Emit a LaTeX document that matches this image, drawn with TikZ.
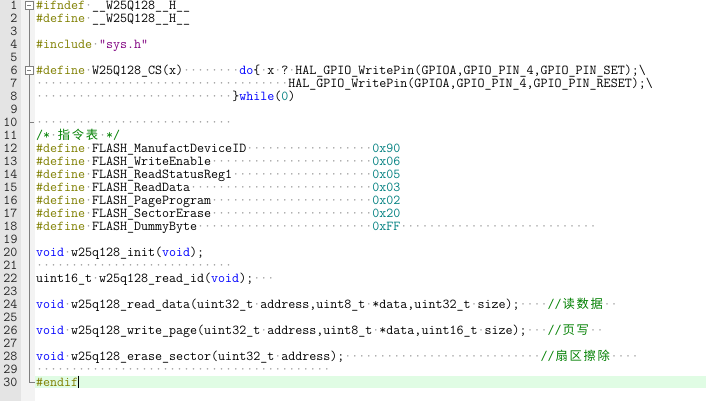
\documentclass[tikz,border=0pt]{standalone}
\usepackage{fontspec}
\newfontfamily\cjkfont{Noto Sans CJK SC}
\definecolor{ppc}{RGB}{128,128,0}
\definecolor{kwc}{RGB}{0,0,255}
\definecolor{numc}{RGB}{0,128,128}
\definecolor{strc}{RGB}{128,0,128}
\definecolor{cmc}{RGB}{0,128,0}
\definecolor{dotc}{RGB}{150,150,150}
\definecolor{gutc}{RGB}{228,228,228}
\definecolor{foldc}{RGB}{243,243,243}
\definecolor{hlc}{RGB}{224,252,228}
\definecolor{flinec}{RGB}{128,128,128}
\newcommand\PP[1]{\textcolor{ppc}{#1}}
\newcommand\KW[1]{\textcolor{kwc}{#1}}
\newcommand\NUM[1]{\textcolor{numc}{#1}}
\newcommand\STR[1]{\textcolor{strc}{#1}}
\newcommand\CM[1]{\textcolor{cmc}{#1}}
\newcommand\CJ[1]{\makebox[14pt]{\raisebox{0pt}[8.5pt][1pt]{\fontsize{12.3}{13}\cjkfont #1}}}
\ExplSyntaxOn
\NewDocumentCommand\DD{m}{\textcolor{dotc}{\prg_replicate:nn{#1}{·}}}
\ExplSyntaxOff
\tikzset{
  code/.style={inner sep=0pt, outer sep=0pt, anchor=base west, font=\fontsize{13.61}{13}\ttfamily},
  lnum/.style={inner sep=0pt, outer sep=0pt, anchor=base east, font=\fontsize{13.61}{13}\ttfamily, text=black!85},
  foldbox/.style={draw=flinec, fill=white, line width=0.8pt},
  foldline/.style={draw=flinec, line width=0.8pt}
}
\begin{document}
\begin{tikzpicture}[x=1pt,y=-1pt]
\useasboundingbox (0,0) rectangle (706,401);
\fill[white] (0,0) rectangle (706,401);
\fill[gutc] (0,0) rectangle (21,401);
\fill[foldc] (21,0) rectangle (35,401);
% current line highlight
\fill[hlc] (35,375.6) rectangle (706,388.4);
% line numbers
\foreach \n in {1,...,30} \node[lnum] (n\n) at (17.5,{10+(\n-1)*12.97}) {\n};
% fold markers
\draw[foldline] (29,9.5) -- (29,382) -- (35,382);
\draw[foldline] (29,{5.9+9*12.97}) -- (34,{5.9+9*12.97});
\draw[foldbox] (25,1.9) rectangle (33,9.9);
\draw[foldline] (27,5.9) -- (31,5.9);
\draw[foldbox] (25,{5.9+5*12.97-4}) rectangle (33,{5.9+5*12.97+4});
\draw[foldline] (27,{5.9+5*12.97}) -- (31,{5.9+5*12.97});
% code lines
\node[code] (l1) at (36,{10+0*12.97}) {\PP{\#ifndef}\DD{1}\_\_W25Q128\_\_H\_\_};
\node[code] (l2) at (36,{10+1*12.97}) {\PP{\#define}\DD{1}\_\_W25Q128\_\_H\_\_};
\node[code] (l4) at (36,{10+3*12.97}) {\PP{\#include}\DD{1}\STR{"sys.h"}};
\node[code] (l6) at (36,{10+5*12.97}) {\PP{\#define}\DD{1}W25Q128\_CS(x)\DD{8}\KW{do}\{\DD{1}x\DD{1}?\DD{1}HAL\_GPIO\_WritePin(GPIOA,GPIO\_PIN\_4,GPIO\_PIN\_SET);\textbackslash};
\node[code] (l7) at (36,{10+6*12.97}) {\DD{36}HAL\_GPIO\_WritePin(GPIOA,GPIO\_PIN\_4,GPIO\_PIN\_RESET);\textbackslash};
\node[code] (l8) at (36,{10+7*12.97}) {\DD{28}\}\KW{while}(\NUM{0})};
\node[code] (l10) at (36,{10+9*12.97}) {\DD{28}};
\node[code] (l11) at (36,{10+10*12.97}) {\CM{/*}\DD{1}\CM{\CJ{指}\CJ{令}\CJ{表}}\DD{1}\CM{*/}};
\node[code] (l12) at (36,{10+11*12.97}) {\PP{\#define}\DD{1}FLASH\_ManufactDeviceID\DD{18}\NUM{0x90}};
\node[code] (l13) at (36,{10+12*12.97}) {\PP{\#define}\DD{1}FLASH\_WriteEnable\DD{23}\NUM{0x06}};
\node[code] (l14) at (36,{10+13*12.97}) {\PP{\#define}\DD{1}FLASH\_ReadStatusReg1\DD{20}\NUM{0x05}};
\node[code] (l15) at (36,{10+14*12.97}) {\PP{\#define}\DD{1}FLASH\_ReadData\DD{26}\NUM{0x03}};
\node[code] (l16) at (36,{10+15*12.97}) {\PP{\#define}\DD{1}FLASH\_PageProgram\DD{23}\NUM{0x02}};
\node[code] (l17) at (36,{10+16*12.97}) {\PP{\#define}\DD{1}FLASH\_SectorErase\DD{23}\NUM{0x20}};
\node[code] (l18) at (36,{10+17*12.97}) {\PP{\#define}\DD{1}FLASH\_DummyByte\DD{25}\NUM{0xFF}\DD{28}};
\node[code] (l20) at (36,{10+19*12.97}) {\KW{void}\DD{1}w25q128\_init(\KW{void});};
\node[code] (l21) at (36,{10+20*12.97}) {\DD{28}};
\node[code] (l22) at (36,{10+21*12.97}) {uint16\_t\DD{1}w25q128\_read\_id(\KW{void});\DD{3}};
\node[code] (l24) at (36,{10+23*12.97}) {\KW{void}\DD{1}w25q128\_read\_data(uint32\_t\DD{1}address,uint8\_t\DD{1}*data,uint32\_t\DD{1}size);\DD{4}\CM{//\CJ{读}\CJ{数}\CJ{据}}\DD{2}};
\node[code] (l26) at (36,{10+25*12.97}) {\KW{void}\DD{1}w25q128\_write\_page(uint32\_t\DD{1}address,uint8\_t\DD{1}*data,uint16\_t\DD{1}size);\DD{3}\CM{//\CJ{页}\CJ{写}}\DD{2}};
\node[code] (l28) at (36,{10+27*12.97}) {\KW{void}\DD{1}w25q128\_erase\_sector(uint32\_t\DD{1}address);\DD{28}\CM{//\CJ{扇}\CJ{区}\CJ{擦}\CJ{除}}\DD{4}};
\node[code] (l29) at (36,{10+28*12.97}) {\DD{42}};
\node[code] (l30) at (36,{10+29*12.97}) {\PP{\#endif}};
% cursor
\draw[black, line width=1pt] (l30.base east) ++(0.2,-10.5) -- ++(0,12.5);
\end{tikzpicture}
\end{document}
